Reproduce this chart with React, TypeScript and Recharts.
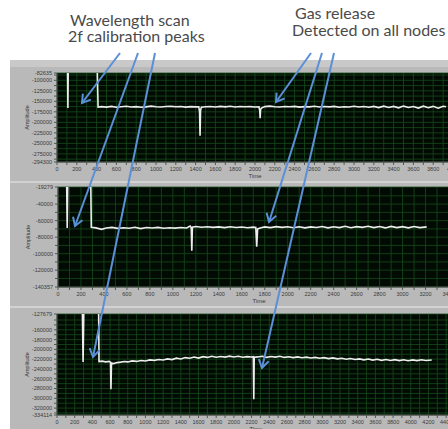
import React from 'react';
import { LineChart, Line, XAxis, YAxis, CartesianGrid } from 'recharts';

// ---------- data: node 1 ----------
const p1Time = [0, 100, 106, 110, 114, 120, 405, 415, 450, 500, 550, 600, 650, 700, 750, 800, 850, 900, 950, 1000, 1050, 1100, 1150, 1200, 1250, 1300, 1350, 1400, 1432, 1440, 1445, 1450, 1458, 1500, 1550, 1600, 1650, 1700, 1750, 1800, 1850, 1900, 1950, 2000, 2040, 2048, 2052, 2056, 2065, 2100, 2150, 2200, 2250, 2300, 2350, 2400, 2450, 2500, 2550, 2600, 2650, 2700, 2750, 2800, 2850, 2900, 2950, 3000, 3050, 3100, 3150, 3200, 3250, 3300, 3350, 3400, 3450, 3500, 3550, 3600, 3650, 3700, 3750, 3800, 3850, 3900, 3930];
const p1Amp = [-60000, -60000, -60000, -166000, -60000, -60000, -60000, -163500, -162500, -163800, -162000, -164200, -163000, -161800, -163500, -162600, -164000, -163200, -161500, -162800, -163600, -162400, -161900, -163000, -162200, -163700, -162500, -163100, -162800, -175000, -232000, -172000, -164000, -163000, -162400, -163500, -162000, -163200, -161800, -163600, -162300, -163000, -162600, -163400, -163000, -172000, -190000, -170000, -166000, -162500, -161500, -162800, -163400, -162200, -163000, -162000, -163800, -162600, -163200, -161900, -163500, -162400, -163100, -162000, -164000, -162800, -163600, -161800, -163400, -162200, -164200, -162000, -165000, -161500, -164600, -162000, -165500, -161400, -164800, -162200, -166000, -161600, -165200, -162000, -166400, -161800, -163000];

// ---------- data: node 2 ----------
const p2Time = [0, 75, 80, 85, 285, 290, 330, 380, 420, 470, 520, 570, 620, 670, 720, 770, 820, 870, 920, 970, 1020, 1070, 1120, 1150, 1160, 1165, 1170, 1200, 1250, 1300, 1350, 1400, 1450, 1500, 1550, 1600, 1650, 1700, 1722, 1730, 1738, 1760, 1800, 1850, 1900, 1950, 2000, 2050, 2100, 2150, 2200, 2250, 2300, 2350, 2400, 2450, 2500, 2550, 2600, 2650, 2700, 2750, 2800, 2850, 2900, 2950, 3000, 3050, 3100, 3150, 3210];
const p2Amp = [-10000, -10000, -69000, -10000, -10000, -68000, -68800, -70500, -69000, -68200, -69400, -68600, -69200, -68000, -69600, -68400, -69000, -68200, -69300, -68700, -69100, -68300, -68900, -66500, -68500, -96400, -68000, -67200, -68000, -67400, -68200, -67600, -68400, -67500, -68300, -67800, -68600, -67900, -68200, -91500, -70000, -69000, -67600, -68400, -67300, -68200, -67500, -68600, -67400, -68800, -67600, -68300, -67200, -68700, -67500, -68400, -66800, -68600, -67300, -68100, -66900, -68500, -67200, -68800, -67000, -68400, -67300, -68700, -67100, -68500, -67600];

// ---------- data: node 3 ----------
const p3Time = [0, 285, 295, 305, 470, 475, 510, 550, 590, 605, 610, 616, 640, 680, 720, 760, 800, 850, 900, 950, 1000, 1050, 1100, 1150, 1200, 1250, 1300, 1350, 1400, 1450, 1500, 1550, 1600, 1650, 1700, 1750, 1800, 1850, 1900, 1950, 2000, 2050, 2100, 2150, 2200, 2220, 2225, 2230, 2270, 2320, 2370, 2420, 2470, 2520, 2570, 2620, 2670, 2720, 2770, 2820, 2870, 2920, 2970, 3020, 3070, 3120, 3170, 3220, 3270, 3320, 3370, 3420, 3470, 3520, 3570, 3620, 3670, 3720, 3770, 3820, 3870, 3920, 3970, 4020, 4070, 4120, 4170, 4237];
const p3Amp = [-100000, -100000, -226000, -100000, -100000, -225000, -224000, -225500, -224500, -226000, -281650, -228000, -229000, -227000, -226000, -224800, -225600, -223500, -224600, -222800, -223600, -221500, -222400, -220600, -221800, -219500, -220800, -218000, -219600, -216800, -218200, -215500, -217800, -214800, -216400, -214000, -216000, -214600, -215800, -213800, -215600, -214200, -216200, -214800, -215600, -215000, -302000, -216000, -215400, -214000, -216200, -214600, -215800, -214200, -216400, -215000, -216800, -215400, -217200, -215800, -217600, -216400, -218200, -216800, -218800, -217400, -219400, -218000, -220200, -218600, -220800, -219400, -221400, -219800, -222000, -220200, -222400, -220600, -222800, -221000, -223000, -221200, -223200, -221400, -223000, -221200, -222600, -221800];

// ---------- axis ticks ----------
const p1YMajor = [-294300, -275000, -250000, -225000, -200000, -175000, -150000, -125000, -100000, -82635];
const p1YMinor = [-287500, -262500, -237500, -212500, -187500, -162500, -137500, -112500, -87500];
const p2YMajor = [-140357, -120000, -100000, -80000, -60000, -40000, -19279];
const p2YMinor = [-130000, -110000, -90000, -70000, -50000, -30000];
const p3YMajor = [-334114, -320000, -300000, -280000, -260000, -240000, -220000, -200000, -180000, -160000, -127679];
const p3YMinor = [-330000, -310000, -290000, -270000, -250000, -230000, -210000, -190000, -170000, -150000, -140000];

const range = (a: number, b: number, s: number) => {
  const out: number[] = [];
  for (let v = a; v <= b; v += s) out.push(v);
  return out;
};
const p1XTicks = range(0, 4000, 100);
const p2XTicks = range(0, 3500, 100);
const p3XTicks = range(0, 4500, 100);

const zip = (t: number[], a: number[]) => t.map((x, i) => ({ t: x, amp: a[i] }));

const FONT = '"Liberation Sans", Arial, sans-serif';

type PanelProps = {
  top: number;
  width: number;
  height: number;
  marginTop: number;
  marginLeft: number;
  data: { t: number; amp: number }[];
  xMax: number;
  xTicks: number[];
  yMajor: number[];
  yMinor: number[];
};

function Panel(p: PanelProps) {
  const yDomain = [p.yMajor[0], p.yMajor[p.yMajor.length - 1]];
  return (
    <div style={{ position: 'absolute', left: 0, top: p.top }}>
      <LineChart
        width={p.width}
        height={p.height}
        data={p.data}
        margin={{ top: p.marginTop, right: 0, left: p.marginLeft, bottom: 0 }}
      >
        <CartesianGrid stroke="#174a1c" strokeWidth={0.8} fill="#020b03" fillOpacity={1} />
        <XAxis
          dataKey="t"
          type="number"
          domain={[0, p.xMax]}
          ticks={p.xTicks}
          interval={0}
          allowDataOverflow
          height={20}
          tickSize={3}
          axisLine={{ stroke: '#555' }}
          tickLine={{ stroke: '#555' }}
          tick={{ fontSize: 5.5, fill: '#3a3a3a', fontFamily: FONT }}
          tickFormatter={(v: number) => (v % 200 === 0 ? String(v) : '')}
          label={{
            value: 'Time',
            position: 'insideBottom',
            offset: 4,
            style: { fontSize: 6, fill: '#3a3a3a', fontFamily: FONT },
          }}
        />
        <YAxis
          dataKey="amp"
          type="number"
          domain={yDomain}
          ticks={[...p.yMajor, ...p.yMinor]}
          interval={0}
          allowDataOverflow
          width={45}
          tickSize={3}
          axisLine={{ stroke: '#555' }}
          tickLine={{ stroke: '#555' }}
          tick={{ fontSize: 5.5, fill: '#3a3a3a', fontFamily: FONT }}
          tickFormatter={(v: number) => (p.yMajor.includes(v) ? String(v) : '')}
          label={{
            content: (lp: any) => {
              const vb = lp.viewBox || {};
              const cx = (vb.x ?? 12) + 15;
              const cy = (vb.y ?? 0) + (vb.height ?? 0) / 2;
              return (
                <text
                  x={cx}
                  y={cy}
                  transform={`rotate(-90 ${cx} ${cy})`}
                  textAnchor="middle"
                  dominantBaseline="central"
                  fontSize={5.5}
                  fill="#3a3a3a"
                  fontFamily={FONT}
                >
                  Amplitude
                </text>
              );
            },
          }}
        />
        <Line
          type="linear"
          dataKey="amp"
          stroke="#eeeeee"
          strokeWidth={1.6}
          dot={false}
          isAnimationActive={false}
        />
      </LineChart>
    </div>
  );
}

const BLUE = '#5b8fd8';
const arrows: [number, number, number, number][] = [
  [120, 53, 82, 103],
  [138, 53, 75, 226],
  [155, 53, 93, 357],
  [311, 53, 276, 102],
  [322, 53, 269, 222],
  [334, 53, 262, 368],
];

export default function App() {
  return (
    <div
      style={{
        position: 'absolute',
        left: 0,
        top: 0,
        width: 448,
        height: 429,
        overflow: 'hidden',
        background: '#ffffff',
      }}
    >
      <div style={{ position: 'absolute', left: 10, top: 60, width: 438, height: 369, background: '#b9b9b9' }} />
      <div style={{ position: 'absolute', left: 10, top: 60, width: 438, height: 7, background: '#c9c9c9' }} />
      <div style={{ position: 'absolute', left: 10, top: 181, width: 438, height: 2, background: '#d2d2d2' }} />
      <div style={{ position: 'absolute', left: 10, top: 306, width: 438, height: 2, background: '#d2d2d2' }} />

      <Panel top={60} width={453} height={122} marginTop={13} marginLeft={12} data={zip(p1Time, p1Amp)} xMax={4000} xTicks={p1XTicks} yMajor={p1YMajor} yMinor={p1YMinor} />
      <Panel top={182} width={460} height={125} marginTop={5} marginLeft={13} data={zip(p2Time, p2Amp)} xMax={3500} xTicks={p2XTicks} yMajor={p2YMajor} yMinor={p2YMinor} />
      <Panel top={307} width={455} height={128} marginTop={7} marginLeft={12} data={zip(p3Time, p3Amp)} xMax={4500} xTicks={p3XTicks} yMajor={p3YMajor} yMinor={p3YMinor} />

      <svg width={448} height={429} style={{ position: 'absolute', left: 0, top: 0, pointerEvents: 'none' }}>
        <defs>
          <marker id="ah" markerWidth={12} markerHeight={12} refX={9} refY={6} orient="auto" markerUnits="userSpaceOnUse">
            <path d="M1,1 L9,6 L1,11" fill="none" stroke={BLUE} strokeWidth={2} />
          </marker>
        </defs>
        <g fontFamily="Lato, 'Open Sans', sans-serif" fontSize={16} fill="#4a4a4a">
          <text x={70} y={26}>Wavelength scan</text>
          <text x={68} y={42}>2f calibration peaks</text>
          <text x={295} y={19}>Gas release</text>
          <text x={292} y={36}>Detected on all nodes</text>
        </g>
        {arrows.map(([x1, y1, x2, y2], i) => (
          <line key={i} x1={x1} y1={y1} x2={x2} y2={y2} stroke={BLUE} strokeWidth={2} markerEnd="url(#ah)" />
        ))}
      </svg>
    </div>
  );
}
